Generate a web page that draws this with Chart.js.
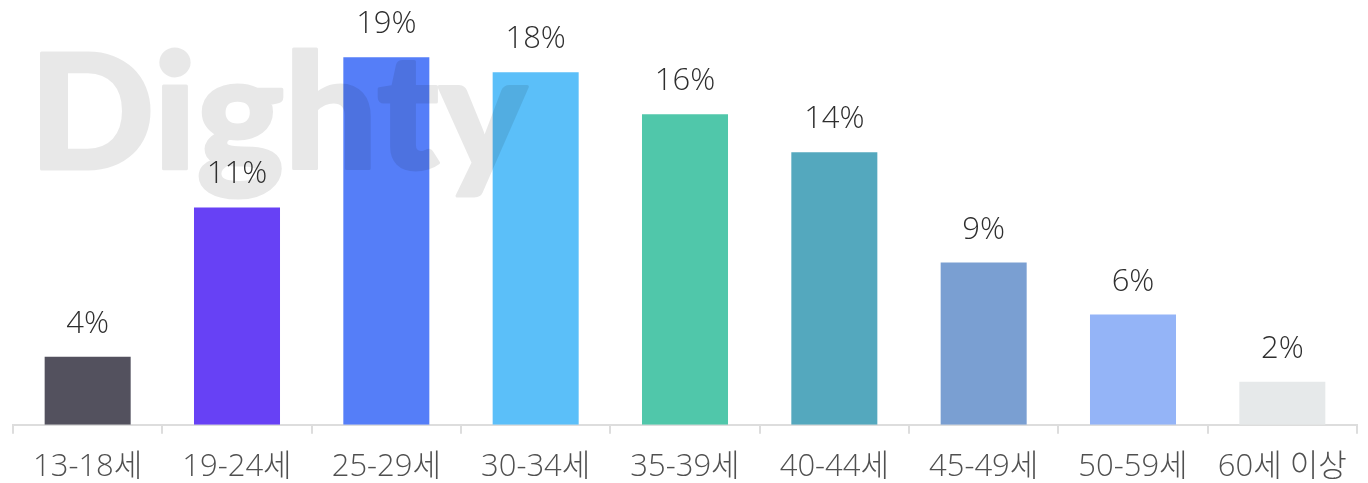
<!DOCTYPE html>
<html>
<head>
<meta charset="utf-8">
<script src="https://cdn.jsdelivr.net/npm/chart.js@4.4.1/dist/chart.umd.min.js"></script>
<style>
  html, body { margin: 0; padding: 0; background: #fff; }
  #wrap { width: 1368px; height: 483px; position: relative; }
</style>
</head>
<body>
<div id="wrap"><canvas id="c"></canvas></div>
<script>
const categories = ["13-18세", "19-24세", "25-29세", "30-34세", "35-39세", "40-44세", "45-49세", "50-59세", "60세 이상"];
const values = [3.56, 11.36, 19.21, 18.43, 16.23, 14.24, 8.48, 5.76, 2.25];
const valueLabels = ["4%", "11%", "19%", "18%", "16%", "14%", "9%", "6%", "2%"];
const barColors = ["#53515e", "#6741f5", "#557ef8", "#5bbff9", "#50c7aa", "#54a8be", "#7a9fd2", "#94b4f7", "#e6e9ea"];

const FONT = "'Open Sans', 'Noto Sans CJK KR', sans-serif";

const watermark = {
  id: 'watermark',
  afterDatasetsDraw(chart) {
    const ctx = chart.ctx;
    const off = document.createElement('canvas');
    off.width = 700; off.height = 260;
    const o = off.getContext('2d');
    o.font = "900 160px Lato, 'Noto Sans', sans-serif";
    o.textBaseline = 'alphabetic';
    const w = o.measureText('Dighty').width;
    const targetW = 498;
    o.save();
    o.translate(29, 169);
    o.scale(targetW / w, 1);
    o.fillStyle = '#000';
    o.strokeStyle = '#000';
    o.lineJoin = 'round';
    o.lineWidth = 3;
    o.fillText('Dighty', 0, 0);
    o.strokeText('Dighty', 0, 0);
    o.restore();
    ctx.save();
    ctx.globalAlpha = 0.09;
    ctx.drawImage(off, 0, 0);
    ctx.restore();
  }
};

const valueLabelPlugin = {
  id: 'valueLabels',
  afterDraw(chart) {
    const ctx = chart.ctx;
    const meta = chart.getDatasetMeta(0);
    ctx.save();
    ctx.font = "300 31px " + FONT;
    ctx.fillStyle = '#2e2e2e';
    ctx.textAlign = 'center';
    ctx.textBaseline = 'alphabetic';
    meta.data.forEach((bar, i) => {
      ctx.fillText(valueLabels[i], bar.x, bar.y - 24);
    });
    ctx.restore();
  }
};

new Chart(document.getElementById('c'), {
  type: 'bar',
  data: {
    labels: categories,
    datasets: [{
      data: values,
      backgroundColor: barColors,
      borderWidth: 0,
      categoryPercentage: 1,
      barPercentage: 0.576
    }]
  },
  options: {
    responsive: true,
    maintainAspectRatio: false,
    animation: false,
    layout: { padding: { left: 13, right: 11, top: 0, bottom: -18 } },
    plugins: { legend: { display: false }, tooltip: { enabled: false } },
    scales: {
      y: { display: false, min: 0, max: 22.2 },
      x: {
        offset: true,
        grid: { offset: true, drawOnChartArea: false, drawTicks: true, tickLength: 9, color: '#dddddd', lineWidth: 2 },
        border: { display: true, color: '#dddddd', width: 2 },
        ticks: { color: '#505050', font: { family: FONT, size: 31, weight: 300 }, padding: 15, maxRotation: 0, autoSkip: false }
      }
    }
  },
  plugins: [watermark, valueLabelPlugin]
});
</script>
</body>
</html>
